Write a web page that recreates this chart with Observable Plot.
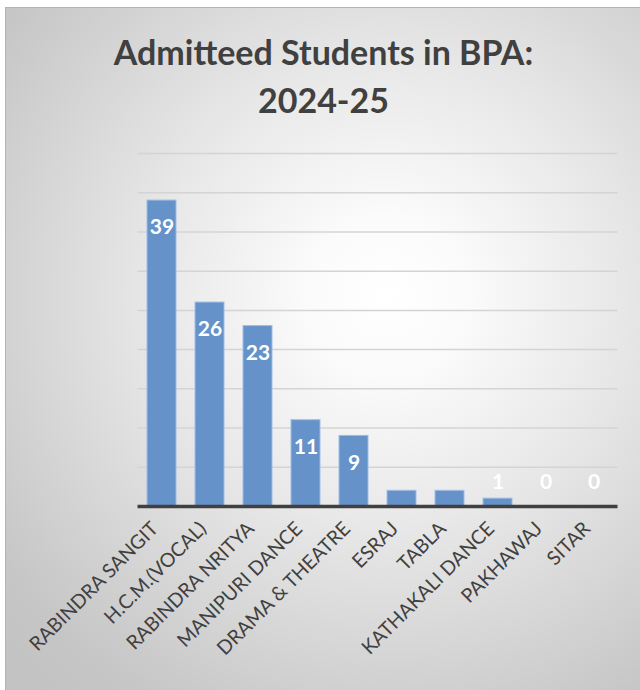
<!DOCTYPE html>
<html>
<head>
<meta charset="utf-8">
<script src="https://cdn.jsdelivr.net/npm/d3@7"></script>
<script src="https://cdn.jsdelivr.net/npm/@observablehq/plot@0.6"></script>
<style>
  html, body { margin: 0; padding: 0; background: #ffffff; width: 640px; height: 690px; overflow: hidden; }
  #card {
    position: absolute; left: 5px; top: 7px; width: 635px; height: 683px;
    border-left: 1px solid #b4b4b4; border-top: 1px solid #b4b4b4;
    background: radial-gradient(circle farthest-corner at 60% 42%, #ffffff 0%, #fbfbfb 14%, #e8e8e8 42%, #c6c6c6 85%, #c2c2c2 100%);
    font-family: Lato, "Open Sans", sans-serif;
  }
  #title {
    position: absolute; left: 0; width: 635px; top: 20px;
    text-align: center; color: #404040; font-weight: 700; font-size: 34px; line-height: 48px;
  }
  #chart { position: absolute; left: 0; top: 123px; }
</style>
</head>
<body>
<div id="card">
  <div id="title">Admitteed Students in BPA:<br>2024-25</div>
  <div id="chart"></div>
</div>
<script>
const categories = ["RABINDRA SANGIT", "H.C.M.(VOCAL)", "RABINDRA NRITYA", "MANIPURI DANCE", "DRAMA & THEATRE", "ESRAJ", "TABLA", "KATHAKALI DANCE", "PAKHAWAJ", "SITAR"];
const values = [39, 26, 23, 11, 9, 2, 2, 1, 0, 0];
const unlabeled = ["ESRAJ", "TABLA"];
const gridTicks = [5, 10, 15, 20, 25, 30, 35, 40, 45];

const data = categories.map((c, i) => ({category: c, value: values[i]}));
const labeled = data.filter(d => !unlabeled.includes(d.category));

const plot = Plot.plot({
  width: 635,
  height: 560,
  marginLeft: 131.5,
  marginRight: 23.5,
  marginTop: 22,
  marginBottom: 185,
  style: {background: "transparent", fontFamily: "Lato, 'Open Sans', sans-serif"},
  x: {domain: categories, paddingInner: 0.4, paddingOuter: 0.2, label: null},
  y: {domain: [0, 45], label: null},
  marks: [
    Plot.ruleY(gridTicks, {stroke: "#d4d4d4", strokeWidth: 1.5}),
    Plot.barY(data, {x: "category", y: "value", fill: "#6592c9", stroke: "#9fbde3", strokeWidth: 1}),
    Plot.ruleY([0], {stroke: "#404040", strokeWidth: 3.5}),
    Plot.text(labeled, {x: "category", y: d => Math.max(d.value, 6.5), dy: 27, text: d => String(d.value),
      fill: "white", fontSize: 21, fontWeight: "bold"}),
    Plot.axisX({tickRotate: -45, tickSize: 0, tickPadding: 16, dx: -7, dy: 3, fontSize: 19.5, fill: "#404040", label: null}),
    Plot.axisY({ticks: [], label: null})
  ]
});
document.getElementById("chart").appendChild(plot);
</script>
</body>
</html>
